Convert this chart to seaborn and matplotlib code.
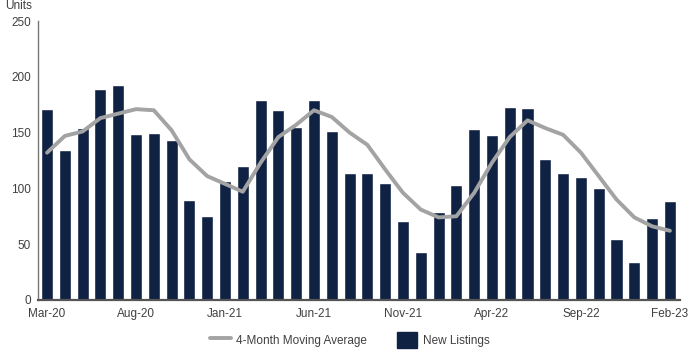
import numpy as np
import pandas as pd
import matplotlib
matplotlib.use("Agg")
import matplotlib.pyplot as plt
from matplotlib.lines import Line2D
from matplotlib.patches import Patch
import seaborn as sns

months = ["Mar-20", "Apr-20", "May-20", "Jun-20", "Jul-20", "Aug-20", "Sep-20", "Oct-20",
          "Nov-20", "Dec-20", "Jan-21", "Feb-21", "Mar-21", "Apr-21", "May-21", "Jun-21",
          "Jul-21", "Aug-21", "Sep-21", "Oct-21", "Nov-21", "Dec-21", "Jan-22", "Feb-22",
          "Mar-22", "Apr-22", "May-22", "Jun-22", "Jul-22", "Aug-22", "Sep-22", "Oct-22",
          "Nov-22", "Dec-22", "Jan-23", "Feb-23"]
new_listings = [171, 134, 154, 189, 193, 149, 150, 143, 90, 75, 107, 120,
                179, 170, 155, 179, 151, 114, 114, 105, 71, 43, 79, 103,
                153, 148, 173, 172, 126, 114, 110, 100, 55, 34, 73, 89]
moving_avg = [132, 147, 151, 163, 167, 171, 170, 152, 126, 111, 104, 97,
              123, 146, 157, 170, 164, 150, 139, 117, 96, 81, 74, 75,
              96, 123, 146, 161, 154, 148, 132, 111, 90, 74, 66, 62]
tick_labels_shown = ["Mar-20", "Aug-20", "Jan-21", "Jun-21", "Nov-21", "Apr-22", "Sep-22", "Feb-23"]

bar_color = "#0f2244"
line_color = "#a3a3a3"
text_color = "#404040"

sns.set_style("white")
plt.rcParams["font.family"] = ["Liberation Sans", "DejaVu Sans"]

fig = plt.figure(figsize=(7, 3.5), dpi=100)
ax = fig.add_axes([0.054, 0.143, 0.917, 0.797])

df = pd.DataFrame({"month": months, "listings": new_listings})
sns.barplot(data=df, x="month", y="listings", color=bar_color, width=0.68,
            saturation=1, ax=ax, zorder=2)
sns.lineplot(x=np.arange(len(months)), y=moving_avg, color=line_color, linewidth=2.8,
             ax=ax, zorder=3)
for ln in ax.lines:
    ln.set_solid_joinstyle("round")
    ln.set_solid_capstyle("round")

ax.set_xlim(-0.52, len(months) - 0.45)
ax.set_ylim(0, 250)
ax.set_yticks([0, 50, 100, 150, 200, 250])
ax.set_xticks(np.arange(len(months)))
ax.set_xticklabels([m if m in tick_labels_shown else "" for m in months])
ax.set_xlabel("")
ax.set_ylabel("")

for s in ["top", "right"]:
    ax.spines[s].set_visible(False)
ax.spines["left"].set_color("#777777")
ax.spines["left"].set_linewidth(1.0)
ax.spines["bottom"].set_color("#555555")
ax.spines["bottom"].set_linewidth(1.6)

ax.tick_params(axis="x", direction="out", length=4, width=0.8, color="#555555",
               labelsize=8.5, labelcolor=text_color, pad=2)
ax.tick_params(axis="y", direction="out", length=4, width=0.8, color="#777777",
               labelsize=8.5, labelcolor=text_color, pad=1)

fig.text(0.008, 0.999, "Units", fontsize=8.5, color=text_color, va="top", ha="left")

handles = [Line2D([0], [0], color=line_color, linewidth=2.8),
           Patch(facecolor=bar_color, edgecolor=bar_color)]
fig.legend(handles, ["4-Month Moving Average", "New Listings"], loc="center",
           bbox_to_anchor=(0.50, 0.028), ncol=2, frameon=False, fontsize=8.5,
           labelcolor=text_color, handlelength=1.7, handleheight=1.7,
           columnspacing=2.5, handletextpad=0.5)

fig.savefig("out.png", dpi=100)
